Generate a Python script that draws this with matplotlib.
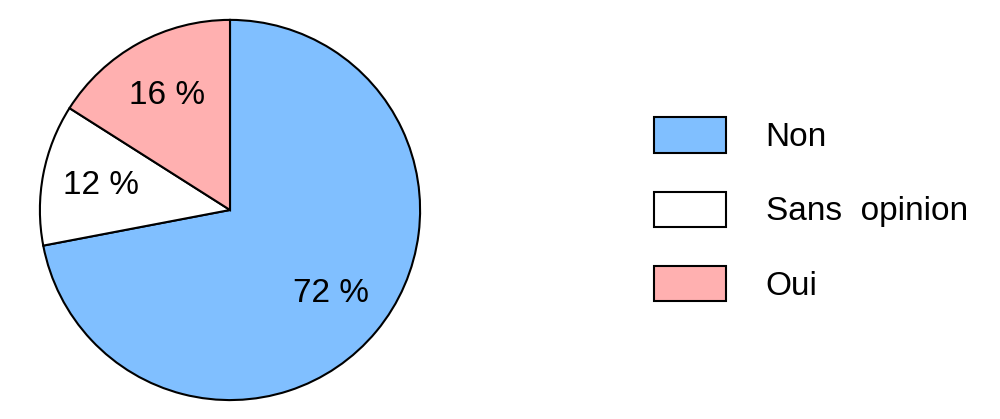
import matplotlib
matplotlib.use("Agg")
import matplotlib.pyplot as plt

categories = ["Non", "Sans  opinion", "Oui"]
values = [72, 12, 16]
colors = ["#80BFFF", "#FFFFFF", "#FFB0B0"]

plt.rcParams['font.family'] = ['Liberation Sans', 'DejaVu Sans']

fig = plt.figure(figsize=(10, 4.19), dpi=100)
ax = fig.add_axes([0.038, 0.0406, 0.384, 0.9165])
wedges, texts, autotexts = ax.pie(
    values, colors=colors, startangle=90, counterclock=False,
    autopct=lambda p: f"{p:.0f} %", pctdistance=0.69, radius=1,
    wedgeprops=dict(edgecolor="black", linewidth=1.5),
    textprops=dict(fontsize=24, color="black"))
ax.set_xlim(-1.01, 1.01)
ax.set_ylim(-1.01, 1.01)
ax.set_aspect("equal")

leg = fig.legend(wedges, categories, loc="center left",
                 bbox_to_anchor=(0.654, 0.5), frameon=False, fontsize=24,
                 handlelength=2.15, handleheight=1.25, handletextpad=1.2,
                 labelspacing=1.15, borderpad=0, borderaxespad=0)

fig.savefig("out.png", dpi=100, facecolor="white")
